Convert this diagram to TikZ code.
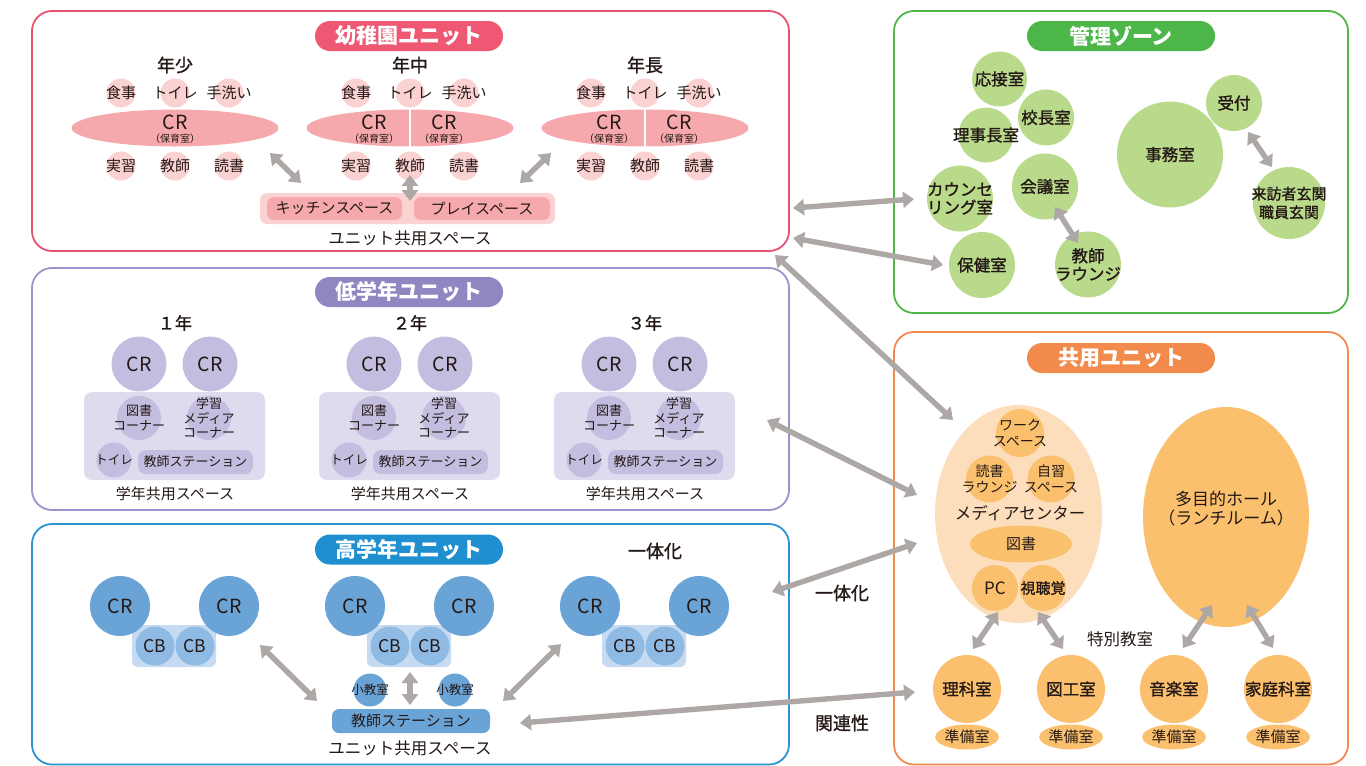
\documentclass[tikz,border=0pt]{standalone}
\usepackage{fontspec}
\setmainfont{Noto Sans CJK JP}
\newfontfamily\semib{Noto Sans CJK JP}[FakeBold=1.2]
\usetikzlibrary{arrows.meta,shapes.geometric}
\definecolor{txt}{HTML}{231815}
\definecolor{pinkB}{HTML}{E9506F}
\definecolor{pinkT}{HTML}{EE5873}
\definecolor{pinkE}{HTML}{F5A9AC}
\definecolor{pinkC}{HTML}{FAD2D2}
\definecolor{purB}{HTML}{9A94CB}
\definecolor{purT}{HTML}{8E87C2}
\definecolor{purC}{HTML}{C3BEDF}
\definecolor{purR}{HTML}{DEDBEF}
\definecolor{bluB}{HTML}{2B93D1}
\definecolor{bluT}{HTML}{1F8FD0}
\definecolor{bluC}{HTML}{6AA4D7}
\definecolor{bluR}{HTML}{C6DBF1}
\definecolor{bluS}{HTML}{8FBAE4}
\definecolor{grnB}{HTML}{4FB74A}
\definecolor{grnT}{HTML}{4CB649}
\definecolor{grnC}{HTML}{B9D98B}
\definecolor{orgB}{HTML}{F28A4C}
\definecolor{orgT}{HTML}{F28A4C}
\definecolor{orgE}{HTML}{FCDEBD}
\definecolor{orgC}{HTML}{FBC06E}
\definecolor{arrgray}{HTML}{ADA7A5}
\newcommand\fz[2]{\fontsize{#1}{#2}\selectfont}
% bubble: name, position, circle options, font, text
\newcommand\bubble[5]{%
  \node[circle, inner sep=0pt, #3] (#1) at (#2) {};
  \node[font=#4] (#1-t) at (#1) {#5};}
\begin{document}
\begin{tikzpicture}[x=1pt,y=-1pt,
  every node/.style={text=txt, inner sep=0pt, align=center},
  pill/.style={fill=#1, rounded corners=15pt, minimum width=188pt, minimum height=30pt, text=white, font=\bfseries\fz{21}{24}},
  unitbox/.style={draw=#1, line width=1.8pt, rounded corners=20pt},
  dot/.style={circle, fill=#1, inner sep=0pt},
  arr/.style={draw=arrgray, line width=5.4pt, {Triangle[width=16pt,length=11pt]}-{Triangle[width=16pt,length=11pt]}},
]
\useasboundingbox (0,0) rectangle (1366,766);

% ================= 幼稚園ユニット =================
\draw[unitbox=pinkB] (32,11) rectangle (789,251);
\node[pill=pinkT] (ktitle) at (409,36) {幼稚園ユニット};
\foreach \gx/\nm/\i in {175/年少/1,410/年中/2,645/年長/3}{
  \node[font=\semib\fz{18}{20}] (kh\i) at (\gx,65) {\nm};
  \node[ellipse, fill=pinkE, minimum width=207pt, minimum height=37pt] (ke\i) at (\gx,128) {};
  \foreach \dx/\t/\j in {-54/食事/a,0/トイレ/b,54/手洗い/c}{
    \bubble{kt\i\j}{{\gx+\dx},93}{fill=pinkC, minimum size=29pt}{\fz{15}{18}}{\t}
  }
  \foreach \dx/\t/\j in {-54/実習/a,0/教師/b,54/読書/c}{
    \bubble{kb\i\j}{{\gx+\dx},166}{fill=pinkC, minimum size=29pt}{\fz{15}{18}}{\t}
  }
}
\node[font=\fz{19.5}{20}] (kcr1) at (175,122) {CR};
\node[font=\fz{10}{11}] (kcp1) at (175,138.5) {（保育室）};
\foreach \gx/\i in {410/2,645/3}{
  \draw[white, line width=2.2pt] (\gx,108) -- (\gx,148);
  \node[font=\fz{19.5}{20}] (kcra\i) at ({\gx-36},122) {CR};
  \node[font=\fz{10}{11}] (kcpa\i) at ({\gx-36},138.5) {（保育室）};
  \node[font=\fz{19.5}{20}] (kcrb\i) at ({\gx+34},122) {CR};
  \node[font=\fz{10}{11}] (kcpb\i) at ({\gx+34},138.5) {（保育室）};
}
\node[fill=pinkC, rounded corners=7pt, minimum width=295pt, minimum height=31pt] (ksp) at (407.5,208.5) {};
\node[fill=pinkE, rounded corners=7pt, minimum width=135pt, minimum height=23pt, font=\fz{15}{18}] (kkit) at (334.5,208.5) {キッチンスペース};
\node[fill=pinkE, rounded corners=7pt, minimum width=136pt, minimum height=23pt, font=\fz{15}{18}] (kply) at (482,208.5) {プレイスペース};
\node[font=\fz{16.5}{18}] (kus) at (410,238) {ユニット共用スペース};
\coordinate (ka1) at (270,153); \coordinate (ka2) at (301,183);
\coordinate (kb1) at (410,175); \coordinate (kb2) at (410,201);
\coordinate (kc1) at (520,183); \coordinate (kc2) at (551,153);
\draw[arr] (ka1) -- (ka2);
\draw[arr] (kb1) -- (kb2);
\draw[arr] (kc1) -- (kc2);

% ================= 低学年ユニット =================
\draw[unitbox=purB] (32,268) rectangle (789,510);
\node[pill=purT] (ltitle) at (409,292) {低学年ユニット};
\foreach \gx/\nm/\i in {175/１年/1,410/２年/2,645/３年/3}{
  \node[font=\semib\fz{17}{20}] (lh\i) at (\gx,323) {\nm};
  \node[dot=purC, minimum size=55pt, font=\fz{19.5}{20}] (lca\i) at ({\gx-36},364) {CR};
  \node[dot=purC, minimum size=55pt, font=\fz{19.5}{20}] (lcb\i) at ({\gx+35},364) {CR};
  \node[fill=purR, rounded corners=8pt, minimum width=181pt, minimum height=88pt] (ls\i) at ({\gx-0.5},436) {};
  \bubble{llib\i}{{\gx-36},418}{fill=purC, minimum size=44pt}{\fz{13}{15}}{図書\\コーナー}
  \bubble{lmed\i}{{\gx+34},418}{fill=purC, minimum size=44pt}{\fz{13}{14.5}}{学習\\メディア\\コーナー}
  \bubble{lwc\i}{{\gx-61},460}{fill=purC, minimum size=35pt}{\fz{12.5}{14}}{トイレ}
  \node[fill=purC, rounded corners=8pt, minimum width=115pt, minimum height=24pt, font=\fz{13}{14}] (lts\i) at ({\gx+20.5},462) {教師ステーション};
  \node[font=\fz{15}{18}] (lsp\i) at (\gx,494) {学年共用スペース};
}

% ================= 高学年ユニット =================
\draw[unitbox=bluB] (32,524) rectangle (789,764.5);
\node[pill=bluT] (htitle) at (409,549.5) {高学年ユニット};
\node[font=\semib\fz{18}{20}] (hone) at (655,551) {一体化};
\foreach \gx/\i in {175/1,410/2,645/3}{
  \node[fill=bluR, rounded corners=6pt, minimum width=84pt, minimum height=42pt] (hcbr\i) at ({\gx-1},646) {};
  \node[dot=bluC, minimum size=60pt, font=\fz{19.5}{20}] (hca\i) at ({\gx-55},606) {CR};
  \node[dot=bluC, minimum size=60pt, font=\fz{19.5}{20}] (hcb\i) at ({\gx+54},606) {CR};
  \node[dot=bluS, minimum size=39pt, font=\fz{17.5}{18}] (hcba\i) at ({\gx-20},646) {CB};
  \node[dot=bluS, minimum size=39pt, font=\fz{17.5}{18}] (hcbb\i) at ({\gx+20},646) {CB};
}
\bubble{hsa}{370,690}{fill=bluC, minimum size=33pt}{\fz{12.5}{14}}{小教室}
\bubble{hsb}{455,690}{fill=bluC, minimum size=33pt}{\fz{12.5}{14}}{小教室}
\node[fill=bluC, rounded corners=7pt, minimum width=158pt, minimum height=24pt, font=\fz{15}{18}] (hts) at (411,721) {教師ステーション};
\node[font=\fz{16.5}{18}] (hsp) at (410,748) {ユニット共用スペース};
\coordinate (ha1) at (260,645); \coordinate (ha2) at (317,701);
\coordinate (hb1) at (410,672); \coordinate (hb2) at (410,705);
\coordinate (hc1) at (503,701); \coordinate (hc2) at (561,644);
\draw[arr] (ha1) -- (ha2);
\draw[arr] (hb1) -- (hb2);
\draw[arr] (hc1) -- (hc2);

% ================= 管理ゾーン =================
\draw[unitbox=grnB] (894,11) rectangle (1348,313);
\node[pill=grnT] (mtitle) at (1121,36) {管理ゾーン};
\bubble{m1}{999.5,79}{fill=grnC, minimum size=55pt}{\semib\fz{16.5}{18}}{応接室}
\bubble{m2}{986,135}{fill=grnC, minimum size=55pt}{\semib\fz{16.5}{18}}{理事長室}
\bubble{m3}{1046,117.5}{fill=grnC, minimum size=56pt}{\semib\fz{16.5}{18}}{校長室}
\bubble{m4}{960,198.5}{fill=grnC, minimum size=66pt}{\semib\fz{16.5}{18}}{カウンセ\\リング室}
\bubble{m5}{1045,186.5}{fill=grnC, minimum size=66pt}{\semib\fz{16.5}{18}}{会議室}
\bubble{m6}{982,265}{fill=grnC, minimum size=66pt}{\semib\fz{16.5}{18}}{保健室}
\bubble{m7}{1088,264.5}{fill=grnC, minimum size=66pt}{\semib\fz{16.5}{18}}{教師\\ラウンジ}
\bubble{m8}{1170,154.5}{fill=grnC, minimum size=106pt}{\semib\fz{16.5}{18}}{事務室}
\bubble{m9}{1234,103}{fill=grnC, minimum size=56pt}{\semib\fz{16.5}{18}}{受付}
\bubble{m10}{1289,203}{fill=grnC, minimum size=72pt}{\semib\fz{15}{18.5}}{来訪者玄関\\職員玄関}
\coordinate (ma1) at (1055,207); \coordinate (ma2) at (1078,243);
\coordinate (mb1) at (1248,132); \coordinate (mb2) at (1272,167);
\draw[arr] (ma1) -- (ma2);
\draw[arr] (mb1) -- (mb2);

% ================= 共用ユニット =================
\draw[unitbox=orgB] (894,332) rectangle (1348,764.5);
\node[pill=orgT] (ctitle) at (1121,358) {共用ユニット};
\node[ellipse, fill=orgE, minimum width=167pt, minimum height=218pt] (cmed) at (1018.5,514) {};
\bubble{c1}{1020,433}{fill=orgC, minimum size=48pt}{\fz{14}{16}}{ワーク\\スペース}
\bubble{c2}{989.5,479}{fill=orgC, minimum size=47pt}{\fz{14}{16}}{読書\\ラウンジ}
\bubble{c3}{1051,479}{fill=orgC, minimum size=47pt}{\fz{14}{16}}{自習\\スペース}
\node[font=\fz{16.5}{18}] (cmt) at (1020,513) {メディアセンター};
\node[ellipse, fill=orgC, minimum width=102pt, minimum height=37pt, font=\fz{15}{18}] (clib) at (1021,544) {図書};
\node[dot=orgC, minimum size=46pt, font=\fz{17}{18}] (cpc) at (995,588) {PC};
\bubble{cav}{1043,588}{fill=orgC, minimum size=46pt}{\semib\fz{15}{18}}{視聴覚}
\node[ellipse, fill=orgC, minimum width=166pt, minimum height=220pt] (chall) at (1226,517) {};
\node[font=\fz{17}{19}] (challt) at (1226,509) {多目的ホール\\（ランチルーム）};
\node[font=\fz{16.5}{18}] (csp) at (1120,639) {特別教室};
\foreach \x/\t/\i in {967/理科室/1,1071/図工室/2,1174/音楽室/3,1278/家庭科室/4}{
  \bubble{cr\i}{\x,689}{fill=orgC, minimum size=68pt}{\semib\fz{16.5}{18}}{\t}
  \node[ellipse, fill=orgC, minimum width=57pt, minimum height=25pt, font=\fz{15}{18}] (cp\i) at (\x,737) {準備室};
}
\coordinate (ca1) at (998,612); \coordinate (ca2) at (973,649);
\coordinate (cb1) at (1038,612); \coordinate (cb2) at (1063,649);
\coordinate (cc1) at (1212,605); \coordinate (cc2) at (1183,648);
\coordinate (cd1) at (1247,605); \coordinate (cd2) at (1273,648);
\draw[arr] (ca1) -- (ca2);
\draw[arr] (cb1) -- (cb2);
\draw[arr] (cc1) -- (cc2);
\draw[arr] (cd1) -- (cd2);

% ================= 横断矢印 =================
\coordinate (x1a) at (793,208); \coordinate (x1b) at (914,199);
\coordinate (x2a) at (793,238); \coordinate (x2b) at (943,265);
\coordinate (x3a) at (775,255); \coordinate (x3b) at (953,420);
\coordinate (x4a) at (767,420); \coordinate (x4b) at (917,495);
\coordinate (x5a) at (772,592); \coordinate (x5b) at (917,543);
\coordinate (x6a) at (520,723); \coordinate (x6b) at (915,692);
\draw[arr] (x1a) -- (x1b);
\draw[arr] (x2a) -- (x2b);
\draw[arr] (x3a) -- (x3b);
\draw[arr] (x4a) -- (x4b);
\draw[arr] (x5a) -- (x5b);
\draw[arr] (x6a) -- (x6b);
\node[font=\semib\fz{18}{20}] (xl1) at (842,593) {一体化};
\node[font=\semib\fz{18}{20}] (xl2) at (842,723) {関連性};
\end{tikzpicture}
\end{document}
